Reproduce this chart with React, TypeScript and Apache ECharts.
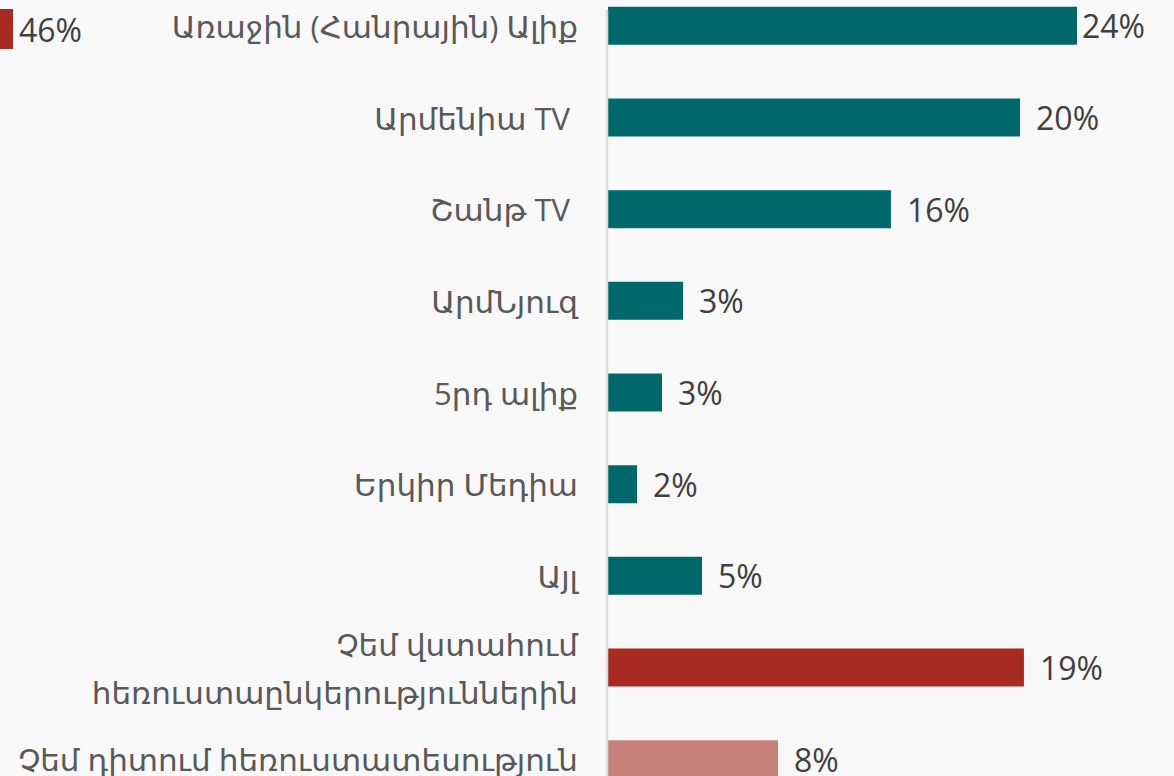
import React, { useEffect, useRef } from "react";
import * as echarts from "echarts";

// Category labels (top to bottom)
const categories = [
  "Առաջին (Հանրային) Ալիք",
  "Արմենիա TV ",
  "Շանթ TV ",
  "ԱրմՆյուզ",
  "5րդ ալիք",
  "Երկիր Մեդիա",
  "Այլ",
  "Չեմ վստահում\nհեռուստաընկերություններին",
  "Չեմ դիտում հեռուստատեսություն",
];
// Bar lengths as drawn (percent)
const barValues = [24.05, 21.13, 14.51, 3.85, 2.77, 1.49, 4.82, 21.33, 8.72];
// Value labels as printed on the chart
const valueLabels = ["24%", "20%", "16%", "3%", "3%", "2%", "5%", "19%", "8%"];
// Bar colour groups
const barColors = [
  "#00686B", "#00686B", "#00686B", "#00686B", "#00686B", "#00686B", "#00686B",
  "#A72B21", "#C8807A",
];
// Fragment of a neighbouring bar visible at the top-left
const fragmentValue = [46];
const fragmentLabel = ["46%"];

export default function App() {
  const ref = useRef<HTMLDivElement>(null);
  useEffect(() => {
    if (!ref.current) return;
    const chart = echarts.init(ref.current, undefined, { renderer: "svg" });
    chart.setOption({
      animation: false,
      backgroundColor: "#f8f8f8",
      textStyle: { fontFamily: "'Open Sans', 'DejaVu Sans', sans-serif" },
      grid: [
        { left: 608, top: -20, width: 585, height: 825, containLabel: false, outerBoundsMode: "none" },
        { left: -500, top: 9, width: 513, height: 40, containLabel: false, outerBoundsMode: "none" },
      ],
      xAxis: [
        { gridIndex: 0, type: "value", min: 0, max: 30, show: false, splitLine: { show: false } },
        { gridIndex: 1, type: "value", min: 0, max: 46, show: false, splitLine: { show: false } },
      ],
      yAxis: [
        {
          gridIndex: 0,
          type: "category",
          inverse: true,
          data: categories,
          axisLine: { show: false },
          axisTick: { show: false },
          axisLabel: {
            margin: 30,
            fontSize: 31,
            color: "#595959",
            lineHeight: 48,
            align: "right",
            fontFamily: "'Open Sans', 'DejaVu Sans', sans-serif",
          },
        },
        {
          gridIndex: 1,
          type: "category",
          data: ["fragment"],
          show: false,
        },
      ],
      graphic: [
        {
          type: "line",
          shape: { x1: 607, y1: 10, x2: 607, y2: 776 },
          style: { stroke: "#d9d9d9", lineWidth: 2.5 },
          z: 10,
        },
      ],
      series: [
        {
          type: "bar",
          xAxisIndex: 0,
          yAxisIndex: 0,
          barWidth: 38,
          data: barValues.map((v, i) => ({
            value: v,
            itemStyle: { color: barColors[i] },
            label: { distance: i === 0 ? 5 : 16 },
          })),
          label: {
            show: true,
            position: "right",
            distance: 16,
            fontSize: 32,
            color: "#404040",
            fontFamily: "'Open Sans', sans-serif",
            formatter: (p: any) => valueLabels[p.dataIndex],
          },
        },
        {
          type: "bar",
          xAxisIndex: 1,
          yAxisIndex: 1,
          barWidth: 40,
          data: fragmentValue.map((v) => ({ value: v, itemStyle: { color: "#A72B21" } })),
          label: {
            show: true,
            position: "right",
            distance: 6,
            fontSize: 32,
            color: "#404040",
            fontFamily: "'Open Sans', sans-serif",
            formatter: (p: any) => fragmentLabel[p.dataIndex],
          },
        },
      ],
    });
    return () => chart.dispose();
  }, []);
  return (
    <div
      ref={ref}
      style={{ position: "absolute", left: 0, top: 0, width: 1174, height: 776 }}
    />
  );
}
